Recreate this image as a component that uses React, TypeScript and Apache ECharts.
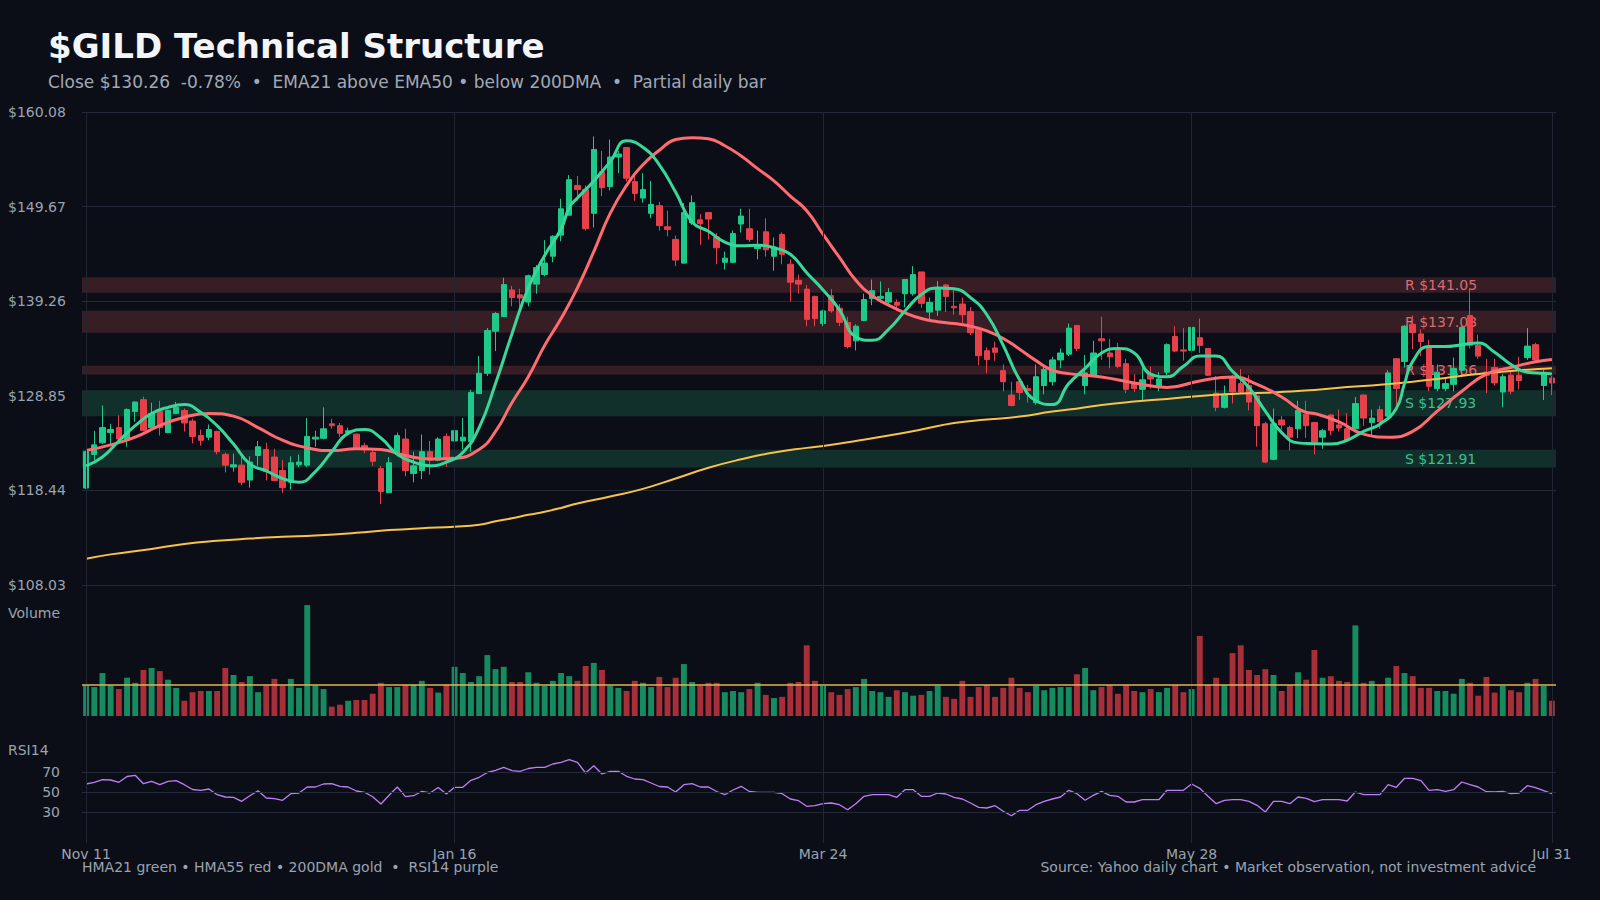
import React, { useEffect, useRef } from "react";
import * as echarts from "echarts";

// ---------------- data ----------------
const opens = [
  118.7, 122.4, 123.67, 124.8, 125.35, 123.96, 127.12, 128.42, 125.35, 127.12,
  124.8, 126.91, 127.24, 126.07, 124.47, 124.3, 124.93, 122.4, 121.01, 121.22,
  119.58, 122.28, 122.95, 122.11, 120.63, 119.33, 121.26, 121.22, 124.09, 124.17,
  125.77, 125.56, 124.8, 124.63, 123.37, 122.61, 120.84, 118.19, 122.61, 124.09,
  120.3, 120.63, 122.7, 121.77, 124.38, 123.88, 123.88, 123.79, 129.1, 131.33,
  135.96, 137.56, 140.5, 139.96, 139.16, 141.14, 142.19, 144.21, 146.53, 148.72,
  152.0, 151.54, 148.93, 153.51, 151.87, 155.12, 156.17, 152.42, 150.61, 148.93,
  149.77, 147.45, 146.06, 143.45, 147.87, 148.21, 149.01, 146.32, 143.54, 143.54,
  147.75, 147.24, 145.05, 146.9, 144.21, 146.61, 143.33, 141.56, 140.59, 139.79,
  136.8, 139.87, 138.48, 136.93, 134.9, 137.14, 139.54, 139.58, 139.16, 139.12,
  140.08, 140.08, 142.48, 138.06, 138.27, 141.05, 138.7, 138.95, 138.11, 136.17,
  133.81, 134.11, 131.62, 128.93, 130.4, 129.64, 128.09, 129.98, 130.4, 132.8,
  133.43, 136.59, 129.98, 131.12, 135.12, 133.56, 133.85, 132.38, 130.27, 129.56,
  131.24, 129.98, 131.45, 135.37, 133.9, 133.85, 135.24, 134.06, 129.14, 127.58,
  130.95, 130.19, 129.98, 128.84, 125.77, 121.86, 126.19, 125.35, 125.22, 126.82,
  125.9, 124.3, 126.74, 125.64, 125.22, 125.22, 128.93, 125.9, 127.33, 126.61,
  132.93, 132.63, 136.72, 135.66, 134.11, 129.64, 129.64, 130.11, 131.66, 137.68,
  134.4, 131.45, 131.96, 129.27, 131.12, 131.12, 133.05, 134.48, 129.98, 130.82,
];
const closes = [
  122.7, 123.45, 125.35, 125.14, 124.09, 127.33, 128.17, 125.05, 126.91, 125.35,
  127.24, 127.58, 125.86, 124.38, 123.96, 125.14, 122.7, 121.22, 121.26, 119.33,
  121.56, 123.24, 120.51, 119.54, 118.74, 121.48, 121.56, 124.38, 124.3, 125.22,
  125.56, 124.72, 125.01, 123.12, 123.03, 121.64, 118.32, 121.48, 124.47, 120.63,
  121.14, 122.7, 121.77, 124.09, 121.86, 125.01, 124.3, 129.22, 131.33, 136.04,
  137.9, 141.09, 139.66, 139.62, 142.06, 142.95, 143.45, 146.4, 149.43, 152.63,
  151.54, 147.24, 155.96, 151.75, 155.12, 155.45, 152.8, 151.12, 151.54, 149.9,
  147.58, 147.16, 143.79, 149.01, 150.1, 147.79, 148.3, 145.14, 144.0, 146.7,
  148.63, 146.06, 145.35, 144.92, 145.22, 144.42, 141.35, 141.14, 137.26, 137.35,
  138.19, 138.19, 136.93, 134.27, 136.51, 139.45, 140.42, 139.79, 140.21, 138.82,
  141.64, 142.19, 139.03, 139.12, 140.63, 139.79, 138.53, 137.77, 135.79, 133.26,
  132.84, 133.64, 130.4, 127.79, 129.22, 129.43, 130.95, 131.75, 132.8, 133.56,
  136.3, 134.06, 131.37, 133.56, 134.9, 133.14, 132.09, 129.56, 129.64, 130.61,
  130.7, 130.7, 134.48, 133.77, 133.77, 136.38, 134.4, 131.12, 127.58, 129.01,
  129.27, 129.27, 128.17, 125.56, 121.56, 125.77, 125.64, 124.3, 127.24, 125.56,
  123.75, 125.01, 125.05, 125.31, 123.96, 128.0, 126.4, 126.4, 125.98, 131.37,
  129.64, 136.51, 135.79, 134.82, 129.9, 131.45, 130.19, 131.87, 136.38, 134.4,
  133.22, 131.12, 130.27, 130.95, 129.35, 130.53, 134.32, 132.8, 131.28, 130.26,
];
const lows = [
  118.6, 121.77, 123.54, 123.45, 123.9, 123.25, 125.98, 124.93, 125.22, 124.47,
  124.72, 126.82, 124.93, 123.62, 123.37, 123.96, 122.4, 120.42, 120.51, 119.0,
  118.74, 121.14, 119.54, 119.46, 118.19, 118.53, 121.01, 121.01, 123.25, 124.05,
  125.22, 124.3, 124.51, 123.03, 122.53, 121.14, 116.93, 118.19, 122.19, 120.0,
  119.33, 119.67, 120.17, 121.64, 121.01, 122.19, 122.95, 122.7, 129.01, 131.03,
  133.77, 137.56, 138.7, 138.32, 138.7, 140.08, 141.98, 143.54, 145.85, 148.72,
  150.32, 147.03, 147.37, 150.82, 151.45, 153.35, 152.42, 150.32, 150.1, 148.4,
  147.03, 146.4, 143.12, 143.37, 147.66, 145.47, 146.06, 143.33, 142.74, 143.45,
  146.82, 145.77, 143.87, 144.17, 142.61, 143.33, 139.24, 140.08, 136.51, 136.51,
  136.51, 137.98, 136.51, 134.06, 133.85, 137.05, 138.82, 139.12, 138.91, 138.19,
  138.61, 139.87, 138.53, 137.22, 137.64, 138.06, 137.77, 136.84, 135.54, 132.21,
  131.33, 132.72, 129.35, 127.67, 128.38, 128.09, 127.88, 129.01, 129.98, 131.88,
  133.22, 133.77, 129.01, 131.03, 132.8, 131.88, 131.88, 129.14, 129.27, 128.3,
  129.64, 129.35, 131.12, 133.64, 132.72, 132.72, 133.56, 131.03, 127.16, 127.45,
  128.0, 129.01, 127.24, 123.25, 121.43, 121.77, 125.14, 122.82, 124.21, 124.21,
  122.4, 123.03, 124.51, 124.93, 123.79, 125.05, 125.56, 124.51, 125.22, 126.49,
  127.88, 131.96, 133.98, 133.22, 129.35, 129.35, 129.35, 129.35, 130.95, 134.06,
  132.93, 129.14, 129.98, 127.58, 129.01, 129.56, 132.8, 132.51, 128.38, 128.93,
];
const highs = [
  122.8, 125.0, 127.79, 125.77, 126.7, 127.46, 128.2, 128.76, 128.09, 128.3,
  127.33, 128.17, 127.46, 126.32, 125.14, 125.69, 125.01, 122.61, 122.49, 122.19,
  122.19, 123.88, 123.67, 123.03, 121.77, 122.19, 122.4, 126.4, 125.01, 127.58,
  126.32, 125.86, 125.35, 124.72, 123.67, 122.95, 121.14, 122.11, 124.8, 125.22,
  122.7, 124.59, 123.88, 124.3, 124.72, 125.22, 126.4, 129.52, 133.22, 136.3,
  138.06, 141.85, 140.93, 140.63, 142.19, 143.24, 145.98, 146.53, 150.53, 153.14,
  153.05, 152.0, 157.39, 155.79, 157.05, 155.79, 156.21, 153.35, 153.35, 152.5,
  150.19, 149.22, 146.48, 150.06, 150.9, 148.84, 149.01, 146.74, 144.72, 147.03,
  149.43, 149.43, 147.03, 148.38, 146.27, 146.82, 143.87, 142.19, 141.05, 139.87,
  138.32, 140.59, 138.95, 137.56, 136.72, 140.08, 141.64, 141.43, 140.72, 139.45,
  141.64, 143.12, 142.48, 139.66, 141.47, 141.14, 140.5, 139.66, 138.61, 136.3,
  134.19, 134.82, 132.3, 130.4, 130.44, 130.06, 132.3, 132.09, 133.14, 134.06,
  136.8, 136.63, 133.35, 134.9, 137.56, 135.12, 134.69, 132.93, 131.24, 131.88,
  132.09, 131.45, 134.61, 136.51, 136.3, 136.63, 137.35, 134.11, 131.03, 129.98,
  131.12, 131.79, 131.12, 129.14, 125.98, 127.45, 126.61, 125.56, 128.3, 128.3,
  125.98, 125.22, 126.82, 127.33, 126.95, 128.72, 129.01, 127.33, 127.75, 131.66,
  132.93, 136.63, 137.68, 136.17, 135.03, 132.3, 130.82, 133.05, 136.51, 140.72,
  135.58, 132.93, 132.93, 131.24, 131.45, 133.14, 136.3, 134.69, 131.66, 131.03,
];
// volume, millions of shares
const volumes = [
  7.8, 7.4, 11.0, 7.8, 6.9, 9.8, 8.5, 11.8, 12.3, 11.5,
  9.3, 7.2, 3.9, 6.1, 6.4, 6.4, 6.4, 12.3, 10.5, 8.7,
  10.2, 6.1, 7.8, 9.5, 7.8, 9.5, 7.2, 28.4, 7.8, 6.9,
  2.4, 2.9, 3.9, 4.1, 4.1, 5.7, 8.5, 7.4, 7.4, 8.0,
  8.0, 9.0, 7.2, 6.0, 8.0, 12.6, 11.0, 8.7, 10.2, 15.6,
  12.0, 12.6, 8.7, 8.7, 11.2, 8.5, 7.7, 9.0, 11.0, 10.2,
  9.0, 12.8, 13.6, 11.8, 7.7, 7.2, 6.4, 9.0, 8.5, 7.4,
  10.0, 7.4, 9.8, 13.3, 8.7, 7.7, 8.5, 8.5, 6.1, 6.4,
  6.1, 6.9, 8.5, 5.4, 4.6, 4.9, 8.5, 8.7, 18.1, 9.0,
  7.7, 6.1, 5.4, 6.9, 7.4, 9.5, 6.4, 6.1, 4.9, 6.6,
  6.1, 5.2, 5.4, 6.4, 7.7, 4.9, 4.4, 9.0, 4.9, 7.4,
  7.9, 4.9, 7.2, 9.8, 7.2, 6.1, 7.7, 6.6, 7.2, 7.4,
  7.4, 10.7, 12.3, 6.6, 7.4, 7.9, 5.7, 7.9, 6.4, 6.1,
  6.9, 6.1, 7.2, 7.9, 6.1, 6.9, 20.5, 7.9, 9.8, 7.9,
  16.1, 18.1, 11.8, 10.5, 12.0, 10.5, 6.4, 7.9, 11.2, 9.3,
  16.9, 9.8, 10.2, 9.0, 8.7, 23.2, 8.5, 9.0, 7.9, 9.8,
  12.8, 11.0, 10.2, 7.2, 7.2, 6.4, 6.4, 5.7, 9.5, 8.5,
  5.2, 10.0, 6.0, 7.7, 6.6, 6.1, 8.5, 9.5, 7.7, 3.9,
];
const avgVolume = 8.0;
const rsi14 = [
  58, 59.7, 62.3, 62, 59.7, 65.5, 66.7, 58.3, 60.7, 57.3,
  60.7, 61.3, 57.3, 52.5, 51.7, 53, 47.3, 45, 44.7, 40.7,
  46.3, 51.3, 44, 43.3, 41.7, 48.3, 49, 55, 55, 58,
  58.3, 55.7, 55, 51, 49.7, 45.3, 38, 46.7, 55, 45.3,
  46.3, 50.7, 49, 54.5, 48, 54.7, 54.7, 61.7, 64.7, 69.5,
  71.7, 74.7, 71.3, 70.7, 73.5, 74.7, 74.7, 78, 79.7, 82.3,
  79.7, 69, 76.3, 68, 70.7, 70.7, 65.7, 63, 62.3, 59,
  55.5, 55, 50, 57.3, 58.3, 55, 55, 50.5, 47.3, 52,
  55.7, 50.5, 49.7, 49.7, 49.7, 48.3, 43, 41.3, 35.7, 36.3,
  38.3, 39, 37.3, 32.3, 38.3, 45.7, 47.3, 47.3, 47.3, 44.7,
  52.3, 52.3, 45.7, 45.7, 49, 48, 44.7, 43, 39, 34.7,
  34, 36.3, 30.7, 26.3, 31.7, 31.7, 37.3, 40.7, 43, 45,
  51.7, 48.3, 41.7, 46.7, 50.7, 46.7, 45.7, 40, 40, 42.3,
  42.3, 42.3, 51.7, 51.7, 51.7, 58, 53.7, 45.7, 38.3, 41.7,
  42.3, 42.3, 40.7, 36.7, 30, 40.7, 40.7, 38.3, 45, 43.7,
  40.3, 42.3, 42.3, 42.3, 41, 50, 47.3, 47.3, 47.3, 57.3,
  54.7, 63.7, 63.7, 61.3, 51.7, 52.3, 50.7, 52.3, 60, 57.3,
  55, 50.3, 50, 50.7, 48.3, 49, 56.3, 54.3, 51.3, 48.3,
];
// [bar index, value]
const hma21 = [
  [0, 121.14], [2, 122.11], [4, 123.88], [6, 125.56], [8, 126.9], [10, 127.58], [12, 127.88],
  [14, 127.03], [16, 125.56], [18, 123.54], [20, 121.35], [22, 120.59], [24, 119.75], [26, 119.33],
  [28, 120.51], [30, 122.7], [32, 124.72], [34, 125.14], [36, 124.21], [38, 122.4], [40, 121.56],
  [42, 121.14], [44, 121.56], [46, 122.61], [48, 125.35], [50, 130.2], [52, 135.66], [54, 140.72],
  [56, 144.3], [58, 147.2], [59, 149.56], [60, 150.61], [62, 152.5], [64, 154.61], [66, 156.92],
  [68, 156.21], [70, 154.27], [72, 151.24], [74, 147.96], [76, 146.95], [78, 145.77], [80, 145.35],
  [82, 145.43], [84, 145.14], [86, 144.42], [88, 142.4], [90, 140.5], [92, 138.32], [94, 135.33],
  [96, 134.95], [98, 136.17], [100, 138.19], [102, 140.0], [104, 140.72], [106, 140.63], [108, 139.66],
  [110, 137.77], [112, 134.4], [114, 130.61], [116, 128.3], [118, 127.88], [120, 130.19], [122, 131.87],
  [124, 133.56], [126, 134.06], [128, 133.56], [130, 131.24], [132, 130.95], [134, 132.09], [136, 133.22],
  [138, 133.22], [140, 131.54], [142, 129.77], [144, 127.16], [146, 124.8], [148, 123.67], [150, 123.58],
  [152, 123.54], [154, 123.96], [156, 124.93], [158, 125.73], [160, 127.46], [161, 130.19], [162, 132.63],
  [164, 134.27], [166, 134.27], [168, 134.48], [170, 134.65], [172, 133.64], [174, 132.3], [176, 131.45],
  [178, 131.33], [179, 131.24],
];
const hma55 = [
  [0, 122.82], [3, 123.45], [6, 124.3], [9, 125.56], [12, 126.49], [15, 126.91], [18, 126.61],
  [21, 125.35], [24, 123.96], [27, 123.12], [30, 122.82], [33, 123.03], [36, 122.95], [39, 122.28],
  [42, 121.9], [45, 121.98], [48, 122.95], [50, 124.93], [52, 128.09], [54, 130.95], [56, 134.4],
  [58, 137.35], [60, 140.72], [62, 144.72], [64, 148.93], [66, 152.0], [68, 154.27], [70, 155.87],
  [72, 157.05], [74, 157.26], [76, 157.13], [78, 156.37], [80, 155.24], [82, 153.85], [84, 152.5],
  [86, 150.82], [88, 149.22], [90, 146.61], [92, 144.08], [94, 141.56], [96, 139.87], [98, 138.82],
  [100, 137.98], [102, 137.35], [104, 137.01], [106, 136.8], [108, 136.51], [110, 136.0], [112, 135.16],
  [114, 133.98], [116, 132.72], [118, 131.66], [120, 131.29], [124, 130.91], [128, 130.27], [132, 129.77],
  [136, 130.49], [140, 130.91], [143, 130.11], [146, 128.72], [149, 127.03], [150, 126.91], [153, 125.98],
  [156, 124.63], [159, 124.3], [162, 124.93], [165, 127.16], [168, 129.35], [171, 131.24], [174, 131.96],
  [177, 132.59], [179, 132.84],
];
const dma200 = [
  [0, 110.91], [3, 111.4], [8, 112.0], [12, 112.55], [16, 112.9], [20, 113.14], [24, 113.33],
  [28, 113.48], [33, 113.77], [37, 114.07], [41, 114.28], [45, 114.44], [48, 114.66], [50, 115.04],
  [52, 115.37], [54, 115.75], [56, 116.09], [58, 116.51], [60, 117.0], [64, 117.77], [68, 118.61],
  [72, 119.75], [76, 120.93], [80, 121.86], [84, 122.61], [88, 123.12], [90, 123.33], [94, 123.88],
  [98, 124.47], [102, 125.14], [106, 125.86], [110, 126.23], [114, 126.57], [118, 127.12], [120, 127.33],
  [124, 127.83], [128, 128.21], [132, 128.51], [136, 128.84], [140, 129.06], [144, 129.18], [148, 129.39],
  [150, 129.48], [154, 129.81], [158, 130.06], [162, 130.4], [166, 130.82], [170, 131.24], [174, 131.58],
  [178, 131.83], [179, 131.88],
];
// support / resistance zones: level and zone edges
const zoneKinds = ["R", "R", "R", "S", "S"];
const zoneLevels = [141.05, 137.03, 131.66, 127.93, 121.91];
const zoneLows = [140.2, 135.8, 131.2, 126.6, 120.95];
const zoneHighs = [141.9, 138.2, 132.15, 129.45, 122.9];

const priceMin = 108.03;
const priceMax = 160.08;
const priceStep = 10.41;
const rsiTicks = [30, 50, 70];
const xTickIndex = [0, 45, 90, 135, 179];
const xTickLabels = ["Nov 11", "Jan 16", "Mar 24", "May 28", "Jul 31"];
const marketClosed = [
  "2024-11-28", "2024-12-25", "2025-01-01", "2025-01-20", "2025-02-17",
  "2025-04-18", "2025-05-26", "2025-06-19", "2025-07-04",
];

// ---------------- styles ----------------
const BG = "#0b0e17";
const GRID = "#232938";
const VGRID = "#1f2533";
const TXT = "#9ba3b0";
const UP = "#1fc98a";
const DOWN = "#e8404b";
const VOL_UP = "#168b60";
const VOL_DOWN = "#a62f39";
const HMA21_C = "#3ad79b";
const HMA55_C = "#ff6b70";
const GOLD = "#f7c24a";
const PURPLE = "#c07ef6";
const R_FILL = "#361e24";
const S_FILL = "#12302b";
const R_TXT = "#dc6a70";
const S_TXT = "#3cbf8d";
const FONT = "DejaVu Sans";

function tradingDays(start: string, count: number, closed: string[]): string[] {
  const out: string[] = [];
  const d = new Date(start + "T00:00:00Z");
  while (out.length < count) {
    const dow = d.getUTCDay();
    const iso = d.toISOString().slice(0, 10);
    if (dow !== 0 && dow !== 6 && !closed.includes(iso)) out.push(iso);
    d.setUTCDate(d.getUTCDate() + 1);
  }
  return out;
}

function buildOption() {
  const N = closes.length;
  const dates = tradingDays("2024-11-11", N, marketClosed);
  const candleData = opens.map((o, i) => [o, closes[i], lows[i], highs[i]]);
  const volData = volumes.map((v, i) => ({
    value: v,
    itemStyle: { color: closes[i] >= opens[i] ? VOL_UP : VOL_DOWN },
  }));
  const L = 82;
  const R = 44;
  const xBase = (gridIndex: number) => ({
    type: "category",
    gridIndex,
    data: dates,
    boundaryGap: true,
    axisLine: { show: false },
    axisTick: { show: false },
    axisLabel: { show: false },
    splitLine: { show: false },
  });

  const zones = zoneLevels.map((lvl, k) => {
    const isR = zoneKinds[k] === "R";
    return [
      {
        name: `${zoneKinds[k]} $${lvl.toFixed(2)}`,
        yAxis: zoneLows[k],
        itemStyle: { color: isR ? R_FILL : S_FILL },
        label: {
          show: true,
          position: [1323, "50%"],
          align: "left",
          verticalAlign: "middle",
          color: isR ? R_TXT : S_TXT,
          fontSize: 14,
          fontFamily: FONT,
        },
      },
      { yAxis: zoneHighs[k] },
    ];
  });

  return {
    animation: false,
    backgroundColor: BG,
    textStyle: { fontFamily: FONT },
    grid: [
      { left: L, right: R, top: 112, height: 473 },
      { left: L, right: R, top: 600, height: 116 },
      { left: L, right: R, top: 742, height: 100 },
      { left: L, right: R, top: 112, height: 731 },
    ],
    xAxis: [
      xBase(0),
      xBase(1),
      {
        ...xBase(2),
        axisLabel: {
          show: true,
          color: TXT,
          fontSize: 14,
          margin: 5,
          interval: (idx: number) => xTickIndex.includes(idx),
          formatter: (_v: string, idx: number) => {
            const k = xTickIndex.indexOf(idx);
            return k >= 0 ? xTickLabels[k] : "";
          },
        },
      },
      xBase(3),
    ],
    yAxis: [
      {
        type: "value",
        gridIndex: 0,
        min: priceMin,
        max: priceMax,
        interval: priceStep,
        axisLine: { show: false },
        axisTick: { show: false },
        splitLine: { show: true, lineStyle: { color: GRID, width: 1 } },
        axisLabel: {
          color: TXT,
          fontSize: 14,
          align: "left",
          margin: 74,
          formatter: (v: number) => "$" + v.toFixed(2),
        },
      },
      { type: "value", gridIndex: 1, min: 0, max: 29.7, show: false },
      {
        type: "value",
        gridIndex: 2,
        min: 0,
        max: 100,
        interval: 10,
        axisLine: { show: false },
        axisTick: { show: false },
        splitLine: { show: false },
        axisLabel: {
          color: TXT,
          fontSize: 14,
          margin: 22,
          formatter: (v: number) => (rsiTicks.includes(v) ? String(v) : ""),
        },
      },
      { type: "value", gridIndex: 3, min: 0, max: 1, show: false },
    ],
    series: [
      {
        name: "zones",
        type: "line",
        xAxisIndex: 0,
        yAxisIndex: 0,
        data: [],
        z: 1,
        silent: true,
        markArea: { silent: true, data: zones },
      },
      {
        name: "vgrid",
        type: "line",
        xAxisIndex: 3,
        yAxisIndex: 3,
        data: [],
        z: 1,
        silent: true,
        markLine: {
          silent: true,
          symbol: ["none", "none"],
          label: { show: false },
          lineStyle: { color: VGRID, width: 1, type: "solid" },
          data: xTickIndex.map((i) => ({ xAxis: dates[i] })),
        },
      },
      {
        name: "rsiGrid",
        type: "line",
        xAxisIndex: 2,
        yAxisIndex: 2,
        data: [],
        z: 1,
        silent: true,
        markLine: {
          silent: true,
          symbol: ["none", "none"],
          label: { show: false },
          lineStyle: { color: GRID, width: 1, type: "solid" },
          data: rsiTicks.map((v) => ({ yAxis: v })),
        },
      },
      {
        name: "price",
        type: "candlestick",
        xAxisIndex: 0,
        yAxisIndex: 0,
        data: candleData,
        barWidth: "72%",
        z: 3,
        itemStyle: {
          color: UP,
          color0: DOWN,
          borderColor: UP,
          borderColor0: DOWN,
          borderWidth: 1,
        },
      },
      {
        name: "200DMA",
        type: "line",
        xAxisIndex: 0,
        yAxisIndex: 0,
        data: dma200,
        smooth: true,
        showSymbol: false,
        z: 4,
        lineStyle: { color: GOLD, width: 2 },
      },
      {
        name: "HMA55",
        type: "line",
        xAxisIndex: 0,
        yAxisIndex: 0,
        data: hma55,
        smooth: true,
        showSymbol: false,
        z: 4,
        lineStyle: { color: HMA55_C, width: 3 },
      },
      {
        name: "HMA21",
        type: "line",
        xAxisIndex: 0,
        yAxisIndex: 0,
        data: hma21,
        smooth: true,
        showSymbol: false,
        z: 5,
        lineStyle: { color: HMA21_C, width: 3 },
      },
      {
        name: "volume",
        type: "bar",
        xAxisIndex: 1,
        yAxisIndex: 1,
        data: volData,
        barWidth: "72%",
        z: 3,
        markLine: {
          silent: true,
          symbol: ["none", "none"],
          label: { show: false },
          lineStyle: { color: "#e3b24f", width: 1.6, type: "solid" },
          data: [{ yAxis: avgVolume }],
        },
      },
      {
        name: "RSI14",
        type: "line",
        xAxisIndex: 2,
        yAxisIndex: 2,
        data: rsi14,
        showSymbol: false,
        z: 3,
        lineStyle: { color: PURPLE, width: 1.3 },
      },
    ],
    graphic: [
      {
        type: "text",
        x: 48,
        y: 46,
        style: {
          text: "$GILD Technical Structure",
          fill: "#f4f5f7",
          font: `bold 34px "${FONT}"`,
          verticalAlign: "middle",
        },
      },
      {
        type: "text",
        x: 48,
        y: 82,
        style: {
          text: "Close $130.26  -0.78%  •  EMA21 above EMA50 • below 200DMA  •  Partial daily bar",
          fill: "#a2a9b5",
          font: `17px "${FONT}"`,
          verticalAlign: "middle",
        },
      },
      {
        type: "text",
        x: 8,
        y: 613,
        style: { text: "Volume", fill: TXT, font: `14px "${FONT}"`, verticalAlign: "middle" },
      },
      {
        type: "text",
        x: 8,
        y: 750,
        style: { text: "RSI14", fill: TXT, font: `14px "${FONT}"`, verticalAlign: "middle" },
      },
      {
        type: "text",
        x: 82,
        y: 867,
        style: {
          text: "HMA21 green • HMA55 red • 200DMA gold  •  RSI14 purple",
          fill: TXT,
          font: `14px "${FONT}"`,
          verticalAlign: "middle",
        },
      },
      {
        type: "text",
        x: 1536,
        y: 867,
        style: {
          text: "Source: Yahoo daily chart • Market observation, not investment advice",
          fill: TXT,
          font: `14px "${FONT}"`,
          align: "right",
          verticalAlign: "middle",
        },
      },
    ],
  };
}

export default function App() {
  const ref = useRef<HTMLDivElement>(null);
  useEffect(() => {
    if (!ref.current) return;
    const chart = echarts.init(ref.current, null, { renderer: "svg" });
    chart.setOption(buildOption() as any);
    return () => chart.dispose();
  }, []);
  return (
    <div
      ref={ref}
      style={{ position: "fixed", left: 0, top: 0, width: 1600, height: 900, background: BG }}
    />
  );
}
